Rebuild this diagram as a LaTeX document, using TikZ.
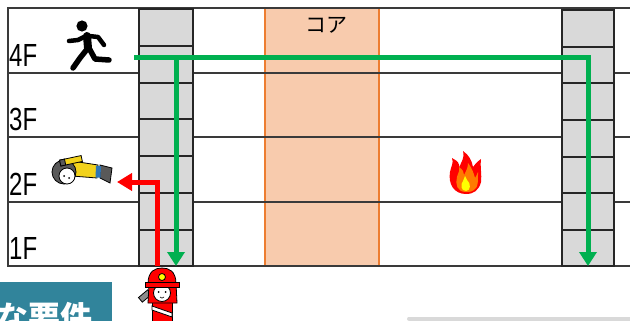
\documentclass[tikz,border=0pt]{standalone}
\usepackage{fontspec}
\newfontfamily\jpfont{Noto Sans CJK JP}
\newfontfamily\floorfont[FakeStretch=0.75]{Liberation Sans}
\usetikzlibrary{arrows.meta}

\definecolor{stairgray}{HTML}{D9D9D9}
\definecolor{stairline}{HTML}{262626}
\definecolor{floorline}{HTML}{3A3A3A}
\definecolor{corefill}{HTML}{F8CBAD}
\definecolor{coreline}{HTML}{ED7D31}
\definecolor{routegreen}{HTML}{00B050}
\definecolor{routered}{HTML}{FF0000}
\definecolor{bannerteal}{HTML}{31849B}
\definecolor{flameorange}{HTML}{FF7A00}
\definecolor{flameyellow}{HTML}{FFFF00}
\definecolor{suityellow}{HTML}{F2D21B}
\definecolor{suitblue}{HTML}{2E75B6}
\definecolor{darkgray}{HTML}{595959}
\definecolor{hosegray}{HTML}{8C8C8C}

\tikzset{
  floorrule/.style={draw=floorline, line width=1.3pt},
  stairbox/.style={draw=stairline, fill=stairgray, line width=1.2pt, inner sep=0pt, outer sep=0pt},
  stairstep/.style={draw=stairline, line width=1.2pt},
  corebox/.style={draw=coreline, fill=corefill, line width=1.5pt, inner sep=0pt, outer sep=0pt},
  floorlabel/.style={anchor=base west, inner sep=0pt, font=\floorfont\fontsize{32}{32}\selectfont},
  greenroute/.style={draw=routegreen, line width=5pt, line join=miter, -{Triangle[length=14pt,width=17pt]}},
  greenbar/.style={draw=routegreen, line width=5pt, line join=miter},
  redroute/.style={draw=routered, line width=5pt, line join=miter, -{Triangle[length=15pt,width=17pt]}},
  outline/.style={draw=black, line width=0.8pt},
}

\begin{document}
\begin{tikzpicture}[x=1pt,y=-1pt]
\useasboundingbox (0,0) rectangle (630,321);

% core shaft
\node[corebox, minimum width=114pt, minimum height=258pt] (core) at (322,137) {};
\node[font=\jpfont\fontsize{21}{21}\selectfont, inner sep=0pt] (corelabel) at (326,25) {コア};

% floor slabs and outer wall
\draw[floorrule] (630,8) -- (8,8) -- (8,266) -- (630,266);
\foreach \y in {73,137,202} \draw[floorrule] (8,\y) -- (630,\y);

% staircases
\node[stairbox, minimum width=54pt, minimum height=257pt] (lstair) at (166,137.5) {};
\foreach \y in {46,83,119,156,193,230} \draw[stairstep] (139,\y) -- (193,\y);
\node[stairbox, minimum width=52pt, minimum height=256pt] (rstair) at (588,138) {};
\foreach \y in {47,83,120,157,193,230} \draw[stairstep] (562,\y) -- (614,\y);

% floor labels
\node[floorlabel] (f4) at (9,67) {4F};
\node[floorlabel] (f3) at (9,131) {3F};
\node[floorlabel] (f2) at (9,195) {2F};
\node[floorlabel] (f1) at (9,259) {1F};

% evacuation route
\coordinate (gA) at (134,58);
\coordinate (gB) at (588,58);
\coordinate (gC) at (588,266);
\coordinate (gD) at (176,58);
\coordinate (gE) at (176,266);
\draw[greenroute] (gA) -- (gB) -- (gC);
\draw[greenroute] (gD) -- (gE);

% rescue route
\coordinate (rA) at (157,266);
\coordinate (rB) at (157,182);
\coordinate (rC) at (117,182);
\draw[redroute] (rA) -- (rB) -- (rC);

% running person
\begin{scope}[line cap=round, line join=round, draw=black]
  \fill (82,26) circle (5.6);
  \draw[line width=8pt] (87,36) -- (88,48);
  \draw[line width=4.5pt] (86,36) -- (78,40) -- (69,41);
  \draw[line width=4.5pt] (89,36) -- (98,37) -- (104,45);
  \draw[line width=5.5pt] (88,48) -- (80,58) -- (73,68);
  \draw[line width=5.5pt] (89,48) -- (95,59) -- (109,60);
\end{scope}

% collapsed person
\begin{scope}
  \filldraw[fill=darkgray, outline] (100,165) -- (112,168) -- (110,183) -- (100,178) -- cycle;
  \filldraw[fill=suityellow, outline] (72,161) -- (98,165) -- (97,178) -- (72,176) -- cycle;
  \fill[suitblue] (96,165.5) -- (101,166.3) -- (100.5,177.5) -- (95.5,177.5) -- cycle;
  \filldraw[fill=darkgray, outline] (64,172) circle (12);
  \filldraw[fill=white, outline] (67,176) circle (8);
  \fill (64,176) circle (1);
  \fill (69,178) circle (1);
  \filldraw[fill=suityellow, outline, rotate around={12:(70,161)}] (60,158) rectangle (82,164);
  \filldraw[fill=darkgray, outline, rotate around={12:(70,161)}] (60,158) rectangle (65,164);
\end{scope}

% fire
\begin{scope}
  \fill[routered] (466,194) .. controls (454,194) and (448,184) .. (450,172)
    .. controls (451,166) and (454,163) .. (452,158)
    .. controls (458,161) and (460,164) .. (459,168)
    .. controls (461,162) and (465,158) .. (463,151)
    .. controls (469,155) and (472,161) .. (473,167)
    .. controls (475,164) and (477,162) .. (481,159)
    .. controls (480,167) and (482,175) .. (481,182)
    .. controls (479,190) and (474,194) .. (466,194) -- cycle;
  \fill[flameorange] (466,192) .. controls (457,192) and (455,184) .. (457,177)
    .. controls (458,173) and (460,171) .. (459,167)
    .. controls (463,170) and (464,172) .. (464,175)
    .. controls (466,171) and (468,168) .. (468,163)
    .. controls (472,168) and (474,174) .. (475,178)
    .. controls (476,176) and (477,175) .. (478,172)
    .. controls (478,180) and (478,186) .. (476,188)
    .. controls (473,192) and (469,192) .. (466,192) -- cycle;
  \fill[flameyellow] (466,191) .. controls (461,191) and (460,185) .. (463,181)
    -- (465,176) -- (467,180) .. controls (471,183) and (471,191) .. (466,191) -- cycle;
\end{scope}

% firefighter
\begin{scope}
  \filldraw[fill=hosegray, outline, rotate around={40:(145,296)}] (139,293) rectangle (151,299);
  \filldraw[fill=routered, outline] (152,300) rectangle (172,323);
  \filldraw[fill=white, outline] (152,306) -- (172,313) -- (172,317) -- (152,310) -- cycle;
  \filldraw[fill=routered, outline] (149,283) -- (176,283) -- (177,303) -- (148,303) -- cycle;
  \filldraw[fill=white, outline] (162,293) circle (8.5);
  \fill (158.5,292) circle (1);
  \fill (165.5,292) circle (1);
  \draw[line width=0.6pt] (160,297) .. controls (161,298.5) and (163,298.5) .. (164,297);
  \filldraw[fill=routered, outline] (148,284) .. controls (148,271) and (155,268) .. (162,268)
    .. controls (169,268) and (176,271) .. (176,284) -- cycle;
  \filldraw[fill=routered, outline] (145,282) rectangle (179,287);
  \filldraw[fill=flameyellow, outline] (162,277) circle (3.5);
\end{scope}

% heading banner
\begin{scope}
  \clip (0,0) rectangle (630,321);
  \fill[bannerteal] (0,282) rectangle (112,330);
  \node[anchor=base east, inner sep=0pt, text=white, font=\jpfont\bfseries\fontsize{32}{32}\selectfont] (req) at (93,329) {な要件};
\end{scope}

% panel edge
\draw[line width=4pt, line cap=round, color=black!15] (409,318.5) -- (630,318.5);
\end{tikzpicture}
\end{document}
